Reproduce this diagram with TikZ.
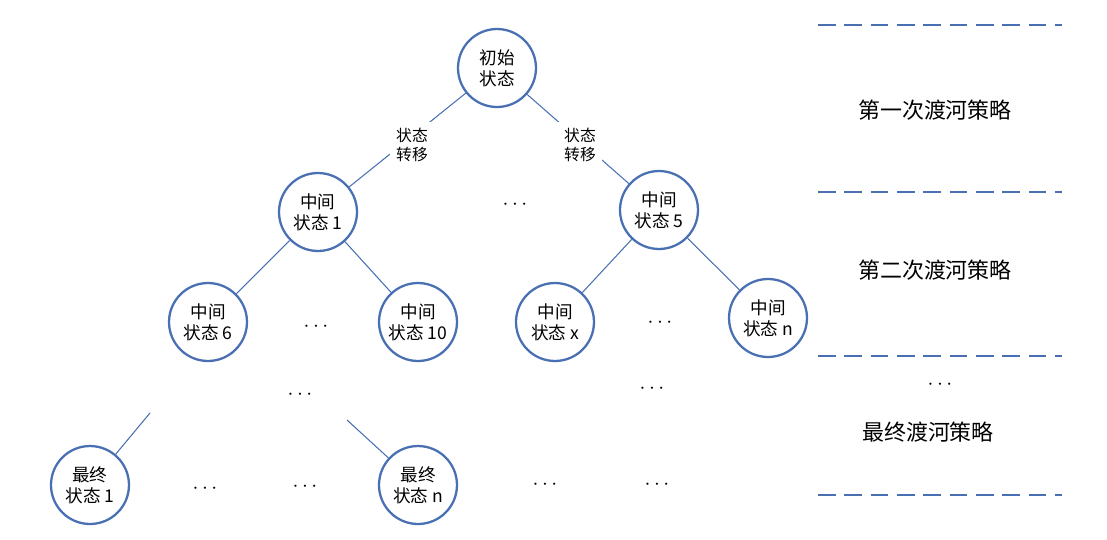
\documentclass[tikz,border=0pt]{standalone}
\usepackage{fontspec}
\newfontfamily\cjk{Noto Sans CJK SC}
\usetikzlibrary{positioning}
\definecolor{lineblue}{RGB}{72,112,178}
\tikzset{
  state/.style={circle,draw=lineblue,line width=1.3pt,minimum size=1.56cm,inner sep=0pt,align=center,font=\cjk\fontsize{10}{12}\selectfont},
  link/.style={lineblue,line width=0.6pt},
  level/.style={lineblue,dashed,dash pattern=on 10pt off 5pt,line width=1.1pt},
  dots/.style={font=\bfseries\large},
}
\begin{document}
\begin{tikzpicture}[x=0.02cm,y=-0.02cm]
\useasboundingbox (0,0) rectangle (1107,539);
\node (init) at (497,68) [state] {初始\\状态};
\node (mid1) at (318,212) [state] {中间\\状态 1};
\node (mid5) at (659,210) [state] {中间\\状态 5};
\node (mid6) at (208,322) [state] {中间\\状态 6};
\node (mid10) at (418,322) [state] {中间\\状态 10};
\node (midx) at (555,322) [state] {中间\\状态 x};
\node (midn) at (768,318) [state] {中间\\状态 n};
\node (fin1) at (90,485) [state] {最终\\状态 1};
\node (finn) at (418,485) [state] {最终\\状态 n};
\coordinate (cut1) at (150,413);
\coordinate (cutn) at (347,420);
\draw [link] (init) -- (mid1);
\draw [link] (init) -- (mid5);
\draw [link] (mid1) -- (mid6);
\draw [link] (mid1) -- (mid10);
\draw [link] (mid5) -- (midx);
\draw [link] (mid5) -- (midn);
\draw [link] (cut1) -- (fin1);
\draw [link] (cutn) -- (finn);
\node (moveL) at (412,145) [fill=white,align=center,font=\cjk\fontsize{9}{11}\selectfont] {状态\\转移};
\node (moveR) at (580,145) [fill=white,align=center,font=\cjk\fontsize{9}{11}\selectfont] {状态\\转移};
% dots
\foreach \x/\y in {515/205,316/327,660/323,300/395,652/389,205/489,305/487,545/485,657/485,940/385}
  \node [dots] at (\x,\y) {$\cdots$};
% levels
\foreach \y [count=\i] in {25,192,356,495}
  \draw [level] (818,\y) coordinate (lv\i) -- (1062,\y);
\node (plan1) at (935,110) [font=\cjk\fontsize{12.5}{15}\selectfont] {第一次渡河策略};
\node (plan2) at (935,270) [font=\cjk\fontsize{12.5}{15}\selectfont] {第二次渡河策略};
\node (plan3) at (928,432) [font=\cjk\fontsize{12.5}{15}\selectfont] {最终渡河策略};
\end{tikzpicture}
\end{document}
